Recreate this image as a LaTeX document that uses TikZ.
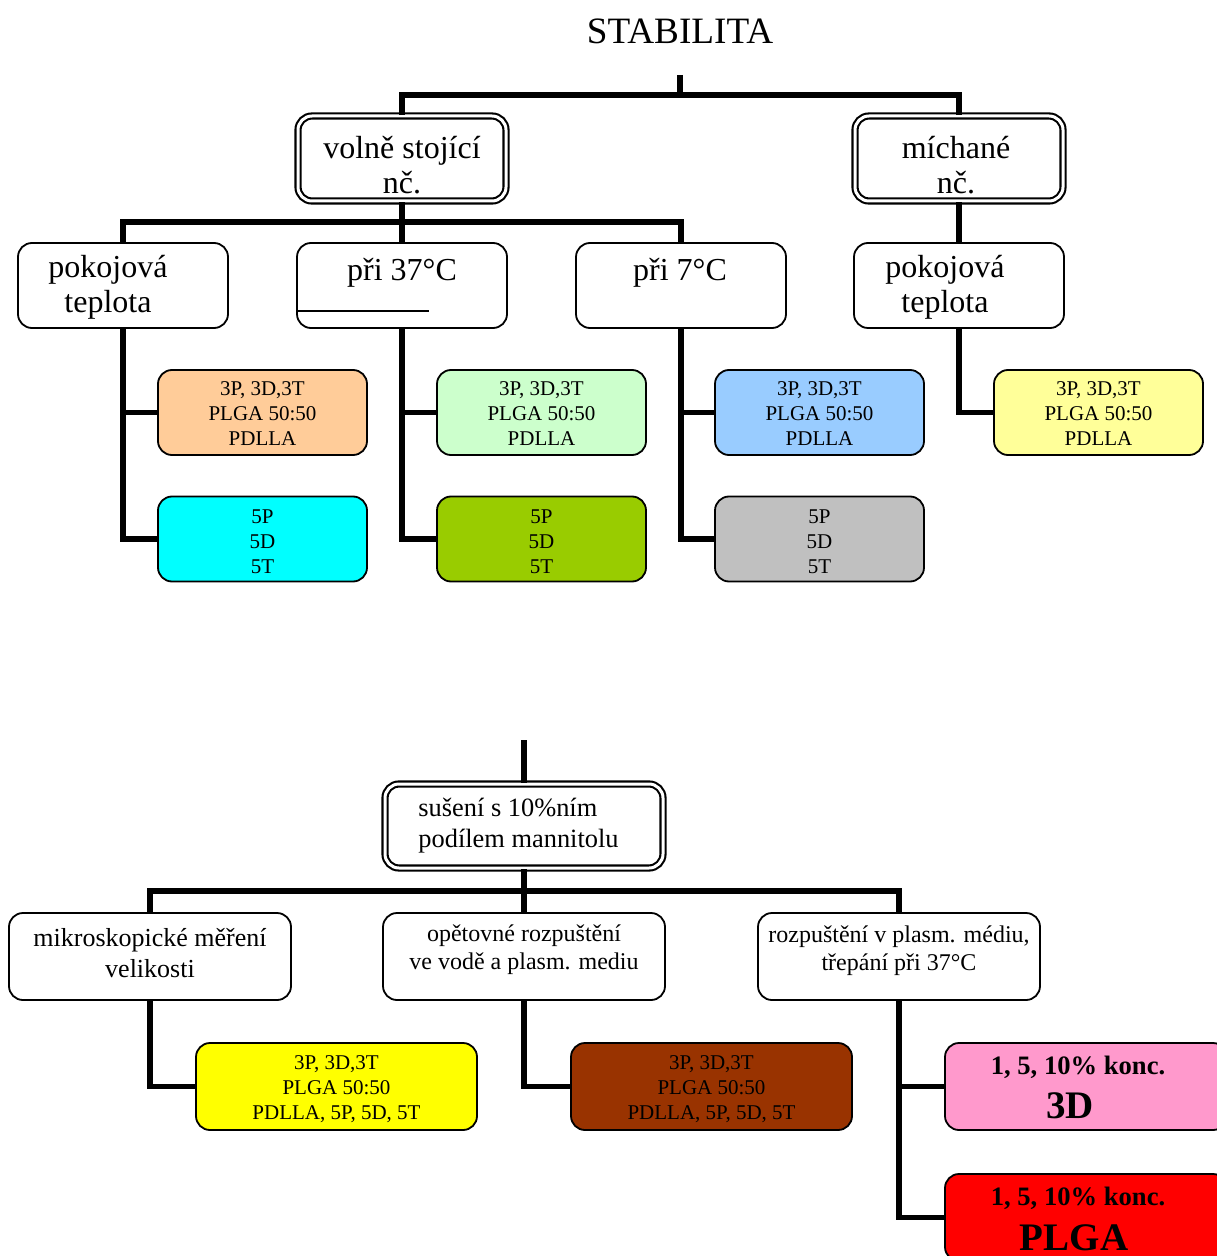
\documentclass[tikz,border=0pt]{standalone}
\usepackage{fontspec}
\setmainfont{Liberation Serif}
\definecolor{cpeach}{HTML}{FFCC99}
\definecolor{clgreen}{HTML}{CCFFCC}
\definecolor{clblue}{HTML}{99CCFF}
\definecolor{clyellow}{HTML}{FFFF99}
\definecolor{ccyan}{HTML}{00FFFF}
\definecolor{cgreen}{HTML}{99CC00}
\definecolor{cgray}{HTML}{C0C0C0}
\definecolor{cyellow}{HTML}{FFFF00}
\definecolor{cbrown}{HTML}{993300}
\definecolor{cpink}{HTML}{FF99CC}
\definecolor{cred}{HTML}{FF0000}
\begin{document}
\begin{tikzpicture}[x=0.5pt,y=-0.5pt,
  box/.style={draw, line width=0.9pt, rounded corners=7pt, fill=white,
    minimum width=105pt, minimum height=42.5pt, inner sep=0pt, align=center},
  dbox/.style={box, double, double distance=1.5pt, line width=1.05pt, minimum width=104pt},
  smallbox/.style={box, minimum width=104.5pt, minimum height=42.5pt,
    font=\fontsize{10.5}{12.5}\selectfont},
  widebox/.style={box, minimum width=141pt, minimum height=43.5pt},
  yellowbox/.style={box, minimum width=140.5pt, minimum height=43.5pt,
    font=\fontsize{10.5}{12.5}\selectfont},
  conn/.style={line width=2.8pt, line join=miter},
  txt/.style={inner sep=0pt, align=center},
  bigtxt/.style={txt, font=\fontsize{16}{17.5}\selectfont},
  midtxt/.style={txt, font=\fontsize{13}{15.5}\selectfont},
  smtxt/.style={txt, font=\fontsize{12}{14}\selectfont},
  smalltxt/.style={txt, font=\fontsize{10.5}{12.5}\selectfont},
  boldtxt/.style={txt, font=\fontsize{13.3}{16}\selectfont\bfseries},
  hugetxt/.style={txt, font=\fontsize{19.5}{22}\selectfont\bfseries}
]
\useasboundingbox (0,0) rectangle (1216,1256);

% ---------- top diagram ----------
\node[txt, font=\fontsize{18.6}{21}\selectfont] (title) at (680,31) {STABILITA};

\node[dbox] (vs) at (402,158.5) {};
\node[bigtxt] (vst) at (402,165) {volně stojící\\nč.};
\node[dbox] (mi) at (959,158.5) {};
\node[bigtxt] (mit) at (956,165) {míchané\\nč.};

\node[box] (pk1) at (123,285.5) {};
\node[bigtxt] (pk1t) at (108,287) {pokojová\\teplota};
\node[box] (r37) at (402,285.5) {};
\node[bigtxt] (r37t) at (402,273) {při 37°C};
\draw[line width=0.9pt] ([yshift=9pt]r37.south west) -- ++(66.5pt,0);
\node[box] (r7) at (681,285.5) {};
\node[bigtxt] (r7t) at (680,273) {při 7°C};
\node[box] (pk2) at (959,285.5) {};
\node[bigtxt] (pk2t) at (945,287) {pokojová\\teplota};

\node[smallbox, fill=cpeach] (a1) at (262.5,412.5) {};
\node[smalltxt] (a1t) at (262.5,414) {3P, 3D,3T\\PLGA 50:50\\PDLLA};
\node[smallbox, fill=ccyan] (a2) at (262.5,539) {};
\node[smalltxt] (a2t) at (262.5,542) {5P\\5D\\5T};
\node[smallbox, fill=clgreen] (b1) at (541.5,412.5) {};
\node[smalltxt] (b1t) at (541.5,414) {3P, 3D,3T\\PLGA 50:50\\PDLLA};
\node[smallbox, fill=cgreen] (b2) at (541.5,539) {};
\node[smalltxt] (b2t) at (541.5,542) {5P\\5D\\5T};
\node[smallbox, fill=clblue] (c1) at (819.5,412.5) {};
\node[smalltxt] (c1t) at (819.5,414) {3P, 3D,3T\\PLGA 50:50\\PDLLA};
\node[smallbox, fill=cgray] (c2) at (819.5,539) {};
\node[smalltxt] (c2t) at (819.5,542) {5P\\5D\\5T};
\node[smallbox, fill=clyellow] (d1) at (1098.5,412.5) {};
\node[smalltxt] (d1t) at (1098.5,414) {3P, 3D,3T\\PLGA 50:50\\PDLLA};

\coordinate (t1) at (680,75);
\coordinate (j1) at (680,95);
\coordinate (j2) at (402,222);
\draw[conn] (t1) -- (j1);
\draw[conn] (vs.north) |- (j1) -| (mi.north);
\draw[conn] (vs.south) -- (r37.north);
\draw[conn] (pk1.north) |- (j2) -| (r7.north);
\draw[conn] (mi.south) -- (pk2.north);
\draw[conn] (pk1.south) |- (a1.west);
\draw[conn] (pk1.south) |- (a2.west);
\draw[conn] (r37.south) |- (b1.west);
\draw[conn] (r37.south) |- (b2.west);
\draw[conn] (r7.south) |- (c1.west);
\draw[conn] (r7.south) |- (c2.west);
\draw[conn] (pk2.south) |- (d1.west);

% ---------- bottom diagram ----------
\node[dbox, minimum width=139pt, minimum height=42pt] (su) at (524,826) {};
\node[txt, align=left, anchor=west, font=\fontsize{13.2}{15.5}\selectfont] (sut) at (418,826) {sušení s 10\%ním\\podílem mannitolu};

\node[widebox] (mk) at (150,956.5) {};
\node[midtxt] (mkt) at (150,953) {mikroskopické měření\\velikosti};
\node[widebox] (op) at (524,956.5) {};
\node[smtxt] (opt) at (524,950) {opětovné rozpuštění\\ve vodě a plasm. mediu};
\node[widebox] (rp) at (899,956.5) {};
\node[smtxt] (rpt) at (899,951) {rozpuštění v plasm. médiu,\\třepání při 37°C};

\node[yellowbox, fill=cyellow] (y1) at (336.5,1086.5) {};
\node[smalltxt] (y1t) at (336.5,1089) {3P, 3D,3T\\PLGA 50:50\\PDLLA, 5P, 5D, 5T};
\node[yellowbox, fill=cbrown] (br) at (711.5,1086.5) {};
\node[smalltxt] (brt) at (711.5,1089) {3P, 3D,3T\\PLGA 50:50\\PDLLA, 5P, 5D, 5T};
\node[widebox, fill=cpink] (pk) at (1086,1086.5) {};
\node[boldtxt] (pkt1) at (1078,1067) {1, 5, 10\% konc.};
\node[hugetxt] (pkt2) at (1070,1106) {3D};
\node[widebox, fill=cred] (rd) at (1086,1217.5) {};
\node[boldtxt] (rdt1) at (1078,1198) {1, 5, 10\% konc.};
\node[hugetxt] (rdt2) at (1074,1238) {PLGA};

\coordinate (t2) at (524,740);
\coordinate (j3) at (524,891);
\draw[conn] (t2) -- (su.north);
\draw[conn] (su.south) -- (op.north);
\draw[conn] (mk.north) |- (j3) -| (rp.north);
\draw[conn] (mk.south) |- (y1.west);
\draw[conn] (op.south) |- (br.west);
\draw[conn] (rp.south) |- (pk.west);
\draw[conn] (rp.south) |- (rd.west);
\end{tikzpicture}
\end{document}
